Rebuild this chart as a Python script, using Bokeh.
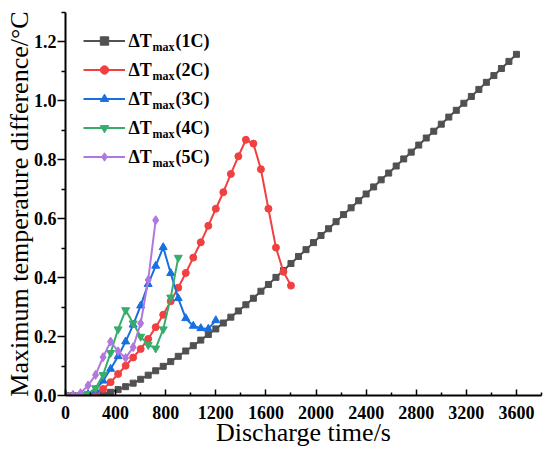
from bokeh.plotting import figure
from bokeh.models import Range1d, FixedTicker, PrintfTickFormatter, Legend, LegendItem, Label
from bokeh.embed import file_html
from bokeh.resources import INLINE

# ---------------- data ----------------
t_1c = list(range(0, 3601, 60))
v_1c = [0, 0, 0, 0, 0, 0.004, 0.011, 0.020, 0.030, 0.042, 0.055, 0.069, 0.084, 0.099,
        0.115, 0.133, 0.151, 0.169, 0.188, 0.207, 0.226, 0.246, 0.266, 0.287, 0.308,
        0.330, 0.354, 0.377, 0.401, 0.424, 0.448, 0.472, 0.495, 0.519, 0.543, 0.566,
        0.590, 0.614, 0.637, 0.661, 0.684, 0.708, 0.732, 0.755, 0.779, 0.803, 0.826,
        0.850, 0.874, 0.897, 0.921, 0.945, 0.968, 0.992, 1.015, 1.039, 1.063, 1.086,
        1.110, 1.134, 1.158]

t_2c = list(range(0, 1801, 60))
v_2c = [0, 0, 0, 0.002, 0.008, 0.022, 0.045, 0.073, 0.101, 0.129, 0.158, 0.192, 0.232,
        0.274, 0.320, 0.366, 0.416, 0.468, 0.520, 0.576, 0.634, 0.690, 0.752, 0.812,
        0.868, 0.855, 0.768, 0.634, 0.502, 0.420, 0.373]

t_3c = list(range(0, 1201, 60))
v_3c = [0, 0, 0, 0.004, 0.019, 0.050, 0.090, 0.133, 0.183, 0.240, 0.305, 0.378, 0.440,
        0.503, 0.415, 0.330, 0.262, 0.236, 0.228, 0.226, 0.255]

t_4c = list(range(0, 901, 60))
v_4c = [0, 0, 0, 0.006, 0.025, 0.070, 0.145, 0.225, 0.290, 0.245, 0.200, 0.172, 0.160,
        0.225, 0.333, 0.468]

t_5c = list(range(0, 721, 60))
v_5c = [0, 0.002, 0.008, 0.034, 0.070, 0.130, 0.183, 0.150, 0.127, 0.164, 0.245, 0.392, 0.595]

series_names = ["1C", "2C", "3C", "4C", "5C"]
x_ticks = list(range(0, 3601, 400))
x_minor = list(range(200, 3801, 400))
y_ticks = [0.0, 0.2, 0.4, 0.6, 0.8, 1.0, 1.2]
y_minor = [0.1, 0.3, 0.5, 0.7, 0.9, 1.1, 1.3]

# ---------------- styles ----------------
colors = ["#515151", "#F14040", "#1A6FDF", "#37AD6B", "#B177DE"]
markers = ["square", "circle", "triangle", "inverted_triangle", "diamond"]
msizes = [6, 7, 8, 8, 9]
XMAX, YMAX = 3800, 1.3
SERIF = "Liberation Serif"

p = figure(width=548, height=452, output_backend="svg", toolbar_location=None,
           x_range=Range1d(0, XMAX), y_range=Range1d(0, YMAX),
           min_border_left=65, min_border_right=7, min_border_top=12, min_border_bottom=57)
p.outline_line_color = None
p.xgrid.visible = False
p.ygrid.visible = False
p.background_fill_color = "white"

xa = p.xaxis[0]
ya = p.yaxis[0]
xa.ticker = FixedTicker(ticks=x_ticks, minor_ticks=x_minor)
ya.ticker = FixedTicker(ticks=y_ticks, minor_ticks=y_minor)
ya.formatter = PrintfTickFormatter(format="%.1f")
xa.axis_label = "Discharge time/s"
ya.axis_label = "Maximum temperature difference/°C"
for ax in (xa, ya):
    ax.axis_line_width = 2
    ax.axis_line_color = "black"
    ax.major_tick_line_width = 1.5
    ax.minor_tick_line_width = 1.5
    ax.major_tick_line_color = "black"
    ax.minor_tick_line_color = "black"
    ax.major_label_text_font = SERIF
    ax.major_label_text_font_style = "bold"
    ax.major_label_text_font_size = "18px"
    ax.major_label_text_color = "black"
    ax.axis_label_text_font = SERIF
    ax.axis_label_text_font_style = "normal"
    ax.axis_label_text_font_size = "26px"
    ax.axis_label_text_color = "black"
xa.major_tick_in = 6
xa.major_tick_out = 0
xa.minor_tick_in = 3
xa.minor_tick_out = 0
xa.major_label_standoff = 10
xa.axis_label_standoff = -4
ya.major_tick_in = 0
ya.major_tick_out = 8
ya.minor_tick_in = 0
ya.minor_tick_out = 4
ya.major_label_standoff = 1
ya.axis_label_standoff = -3

data = [(t_1c, v_1c), (t_2c, v_2c), (t_3c, v_3c), (t_4c, v_4c), (t_5c, v_5c)]
items = []
for i, (tt, vv) in enumerate(data):
    ln = p.line(tt, vv, line_color=colors[i], line_width=2)
    sc = p.scatter(tt, vv, marker=markers[i], size=msizes[i], fill_color=colors[i],
                   line_color=colors[i])
    items.append(LegendItem(label=series_names[i], renderers=[ln, sc]))

legend = Legend(items=items, location="top_left", margin=18, padding=0, spacing=8,
                glyph_width=42, glyph_height=21, label_height=21, label_width=1,
                label_text_alpha=0, label_standoff=0,
                border_line_color=None, background_fill_alpha=0)
p.add_layout(legend)

# legend texts (ΔT with subscript "max")
FW, FH = 476.0, 383.0
def dx(px):
    return px * XMAX / FW
def dy(py):
    return YMAX * (FH - py) / FH

for i, name in enumerate(series_names):
    rc = 28.5 + i * 29
    p.add_layout(Label(x=dx(63), y=dy(rc), text="ΔT", text_font=SERIF, text_font_style="bold",
                       text_font_size="18px", text_baseline="middle", text_align="left",
                       text_color="black"))
    p.add_layout(Label(x=dx(87), y=dy(rc + 6), text="max", text_font=SERIF, text_font_style="bold",
                       text_font_size="12px", text_baseline="middle", text_align="left",
                       text_color="black"))
    p.add_layout(Label(x=dx(110), y=dy(rc), text="(" + name + ")", text_font=SERIF,
                       text_font_style="bold", text_font_size="18px", text_baseline="middle",
                       text_align="left", text_color="black"))

open("out.html", "w").write(file_html(p, INLINE))
